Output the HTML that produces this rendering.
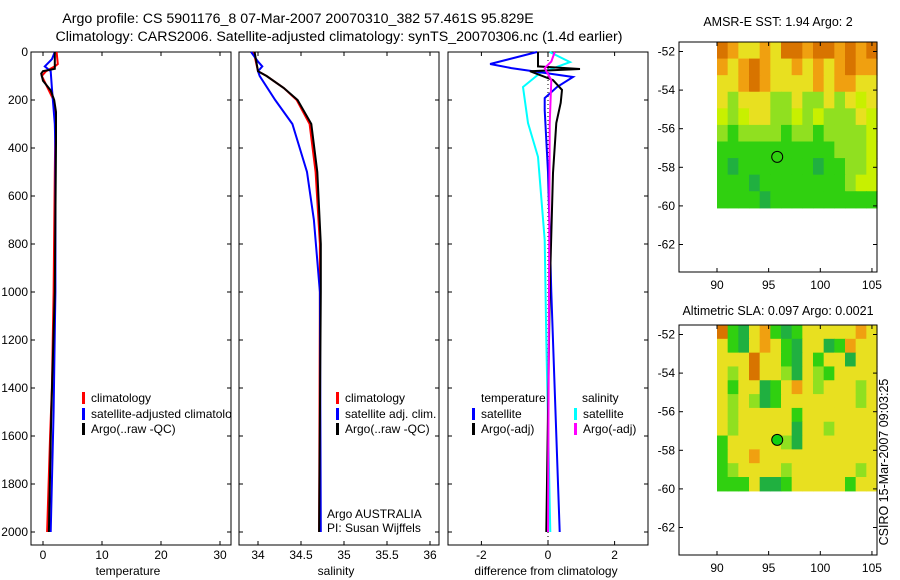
<!DOCTYPE html>
<html><head><meta charset="utf-8"><style>
body{margin:0;background:#fff}
svg{display:block;font-family:"Liberation Sans",sans-serif;font-size:12px}
</style></head><body>
<svg id="c" width="900" height="580" xmlns="http://www.w3.org/2000/svg">
<defs><clipPath id="cp1"><rect x="31" y="52" width="200" height="493"/></clipPath></defs>
<text x="298" y="23" text-anchor="middle" font-size="14.2">Argo profile: CS 5901176_8 07-Mar-2007 20070310_382 57.461S 95.829E</text>
<text x="339" y="41" text-anchor="middle" font-size="14.2">Climatology: CARS2006. Satellite-adjusted climatology: synTS_20070306.nc (1.4d earlier)</text>
<text x="778" y="26" text-anchor="middle" font-size="12.5">AMSR-E SST: 1.94 Argo: 2</text>
<text x="778" y="315" text-anchor="middle" font-size="12.5">Altimetric SLA: 0.097 Argo: 0.0021</text>
<text transform="translate(888,462) rotate(-90)" text-anchor="middle" font-size="12.5">CSIRO 15-Mar-2007 09:03:25</text>
</svg>
<script>
const NS="http://www.w3.org/2000/svg";
const svg=document.getElementById('c');
// ---- data ----
const depthTicks=[0,200,400,600,800,1000,1200,1400,1600,1800,2000];
const tempTicks=[0,10,20,30];
const salTicks=[34,34.5,35,35.5,36];
const diffTicks=[-2,0,2];
const tClimD=[0,50,60,80,100,150,200,300,500,1000,1400,1600,2000];
const tClimV=[2.3,2.5,2.0,0.5,-0.2,0.8,1.8,2.1,2.0,1.8,1.5,1.2,0.7];
const tSatD=[0,30,60,80,150,300,400,1000,1500,2000];
const tSatV=[2.0,1.5,0.3,1.3,1.5,2.0,2.1,2.1,1.8,1.3];
const tArgoD=[0,70,80,90,120,160,200,250,380,1000,1500,2000];
const tArgoV=[2.0,2.0,0.0,-0.3,0.0,1.3,1.9,2.2,2.2,2.0,1.4,1.0];
const sClimD=[0,80,100,150,200,300,500,800,1000,2000];
const sClimV=[33.95,34.0,34.1,34.3,34.45,34.6,34.67,34.72,34.72,34.71];
const sSatD=[0,40,60,80,100,200,300,500,700,1000,2000];
const sSatV=[33.92,34.0,34.05,34.0,34.02,34.2,34.4,34.57,34.65,34.72,34.73];
const sArgoD=[0,80,100,150,200,300,500,800,1000,2000];
const sArgoV=[33.96,34.0,34.1,34.3,34.46,34.62,34.69,34.73,34.73,34.71];
const dTSatD=[0,50,67,104,146,192,242,500,1000,2000];
const dTSatV=[-0.33,-1.74,-1.1,0.75,0.27,-0.1,-0.1,0.0,0.1,0.35];
const dSSatD=[0,42,88,146,296,437,783,1200,2000];
const dSSatV=[0.05,0.66,-0.24,-0.75,-0.6,-0.3,-0.1,-0.05,0.07];
const dTArgoD=[0,60,71,80,117,158,212,296,504,1000,2000];
const dTArgoV=[-0.3,-0.3,0.96,-0.54,0.15,0.42,0.38,0.25,0.15,0.05,-0.05];
const dSArgoD=[0,40,67,117,300,1000,2000];
const dSArgoV=[0.2,0.1,-0.1,0.1,0.05,0.03,0.0];
const latTicks=[-52,-54,-56,-58,-60,-62];
const lonTicks=[90,95,100,105];
const argoLon=95.829, argoLat=-57.461;
const sstRows=["OoyyoyOOoOOoOoO","oyoOoyyoyoyoOoo","yyoOoyyyyoyooyy","yLyyyLLyLLyLyly","lLlyyLLlLlLLLyl","LgLLLLgLLgLLLLl","gggggggggggLLLl","gGgggggggGggLLl","gggGggggggggLll","ggggGgggggggggg"];
const slaRows=["OgGyogGgyyyyyoy","ygGyoygGyyGgoyy","yyyOyygGygyyGyy","yLyOyyLGyLgyyyy","ygyyGgyoyLyyyLy","yLyLGgyyyyyyyLy","yLyyyyygyyyyyyy","yLyyyyyGyyLyyyy","gyyyyyLGyyyyyyy","gyyoyyyyyyyyyyy","gLyyyyLyyyyyyLy","gggyGGgyyyyygyy"];
const pal={O:"#d87400",o:"#f0a010",y:"#e8e020",l:"#c8f000",L:"#90e020",g:"#30d010",G:"#20b040",Y:"#f0d840"};
// ---- helpers ----
function el(t,a,p){const e=document.createElementNS(NS,t);for(const k in a)e.setAttribute(k,a[k]);(p||svg).appendChild(e);return e;}
const Y0=52, YS=0.24;
const yD=d=>Y0+d*YS;
function panel(x0,x1,xs,ticks,fmt,name,label,lx){
  const g=el('g',{});
  
  
  const r=el('rect',{x:x0,y:52,width:x1-x0,height:493,fill:'none',stroke:'#000'},g);
  
  
  depthTicks.forEach(d=>{el('line',{x1:x0,x2:x0+4,y1:yD(d),y2:yD(d),stroke:'#000'},g);el('line',{x1:x1-4,x2:x1,y1:yD(d),y2:yD(d),stroke:'#000'},g);});
  ticks.forEach(v=>{const x=xs(v);el('line',{x1:x,x2:x,y1:52,y2:56,stroke:'#000'},g);el('line',{x1:x,x2:x,y1:541,y2:545,stroke:'#000'},g);
    const t=el('text',{x:x,y:559,'text-anchor':'middle'},g);t.textContent=fmt(v);
    
    });
  const t=el('text',{x:lx,y:575,'text-anchor':'middle'},g);t.textContent=label;
  
  
  return g;
}
function line(g,D,V,xs,col,name,w){
  const p=el('polyline',{points:D.map((d,i)=>xs(V[i]).toFixed(1)+','+yD(d).toFixed(1)).join(' '),fill:'none',stroke:col,'stroke-width':w||2},g);
  
  
}
function legend(g,x,y,col,txt,name){
  const b=el('rect',{x:x,y:y-10,width:3,height:12,fill:col},g);
  
  
  const t=el('text',{x:x+9,y:y},g);t.textContent=txt;
  
  
}
// depth axis labels
depthTicks.forEach(d=>{const t=el('text',{x:28,y:yD(d)+4,'text-anchor':'end'});t.textContent=d;
  
  });
// panel 1
const xT=v=>43+v*5.9;
const g1=panel(31,231,xT,tempTicks,v=>v,'temperature-panel','temperature',128);
line(g1,tClimD,tClimV,xT,'#f00','temp-climatology-line');
line(g1,tSatD,tSatV,xT,'#00f','temp-satellite-line');
line(g1,tArgoD,tArgoV,xT,'#000','temp-argo-line');
const lg1=el('g',{'clip-path':'url(#cp1)'},g1);


legend(lg1,82,402,'#f00','climatology','legend-climatology');
legend(lg1,82,418,'#00f','satellite-adjusted climatology','legend-satellite-adjusted');
legend(lg1,82,433,'#000','Argo(..raw -QC)','legend-argo');
// panel 2
const xS=v=>258+(v-34)*86;
const g2=panel(239,439,xS,salTicks,v=>v,'salinity-panel','salinity',336);
line(g2,sClimD,sClimV,xS,'#f00','sal-climatology-line');
line(g2,sSatD,sSatV,xS,'#00f','sal-satellite-line');
line(g2,sArgoD,sArgoV,xS,'#000','sal-argo-line');
legend(g2,336,402,'#f00','climatology','legend-sal-climatology');
legend(g2,336,418,'#00f','satellite adj. clim.','legend-sal-satellite');
legend(g2,336,433,'#000','Argo(..raw -QC)','legend-sal-argo');
let t=el('text',{x:327,y:518},g2);t.textContent='Argo AUSTRALIA';


t=el('text',{x:327,y:532},g2);t.textContent='PI: Susan Wijffels';


// panel 3
const xDf=v=>548+v*33.3;
const g3=panel(448,648,xDf,diffTicks,v=>v,'difference-panel','difference from climatology',546);
const z=el('line',{x1:xDf(0),x2:xDf(0),y1:52,y2:545,stroke:'#000','stroke-dasharray':'1,3'},g3);


line(g3,dSSatD,dSSatV,xDf,'#0ff','diff-sal-satellite-line');
line(g3,dTSatD,dTSatV,xDf,'#00f','diff-temp-satellite-line');
line(g3,dTArgoD,dTArgoV,xDf,'#000','diff-temp-argo-line');
line(g3,dSArgoD,dSArgoV,xDf,'#f0f','diff-sal-argo-line');
t=el('text',{x:481,y:402},g3);t.textContent='temperature';


t=el('text',{x:582,y:402},g3);t.textContent='salinity';


legend(g3,472,418,'#00f','satellite','legend-diff-temp-satellite');
legend(g3,472,433,'#000','Argo(-adj)','legend-diff-temp-argo');
legend(g3,574,418,'#0ff','satellite','legend-diff-sal-satellite');
legend(g3,574,433,'#f0f','Argo(-adj)','legend-diff-sal-argo');
// maps
function map(top,rows,name,filled){
  const g=el('g',{});
  
  
  const lat0=top+9.5;
  const yL=v=>lat0+(-52-v)*19.3;
  const xL=v=>717+(v-90)*10.33;
  const x0=717,x1=877,y0=top,y1=yL(-60.1);
  const nr=rows.length,nc=rows[0].length,cw=(x1-x0)/nc,ch=(y1-y0)/nr;
  rows.forEach((r,i)=>[...r].forEach((c,j)=>{el('rect',{x:x0+j*cw,y:y0+i*ch,width:cw+0.6,height:ch+0.6,fill:pal[c]},g);}));
  const f=el('rect',{x:679,y:top,width:198,height:230,fill:'none',stroke:'#000'},g);
  
  
  latTicks.forEach(v=>{const y=yL(v);el('line',{x1:679,x2:683,y1:y,y2:y,stroke:'#000'},g);el('line',{x1:873,x2:877,y1:y,y2:y,stroke:'#000'},g);
    const tt=el('text',{x:675,y:y+4,'text-anchor':'end'},g);tt.textContent=v;
    
    });
  lonTicks.forEach(v=>{const x=xL(v);el('line',{x1:x,x2:x,y1:top,y2:top+4,stroke:'#000'},g);el('line',{x1:x,x2:x,y1:top+226,y2:top+230,stroke:'#000'},g);
    const tt=el('text',{x:x,y:top+247,'text-anchor':'middle'},g);tt.textContent=v;
    
    });
  const c=el('circle',{cx:xL(argoLon),cy:yL(argoLat),r:5.5,fill:filled?'#10d010':'none',stroke:'#000'},g);
  
  
}
map(42,sstRows,'sst-map',false);
map(325,slaRows,'sla-map',true);
</script>
</body></html>
